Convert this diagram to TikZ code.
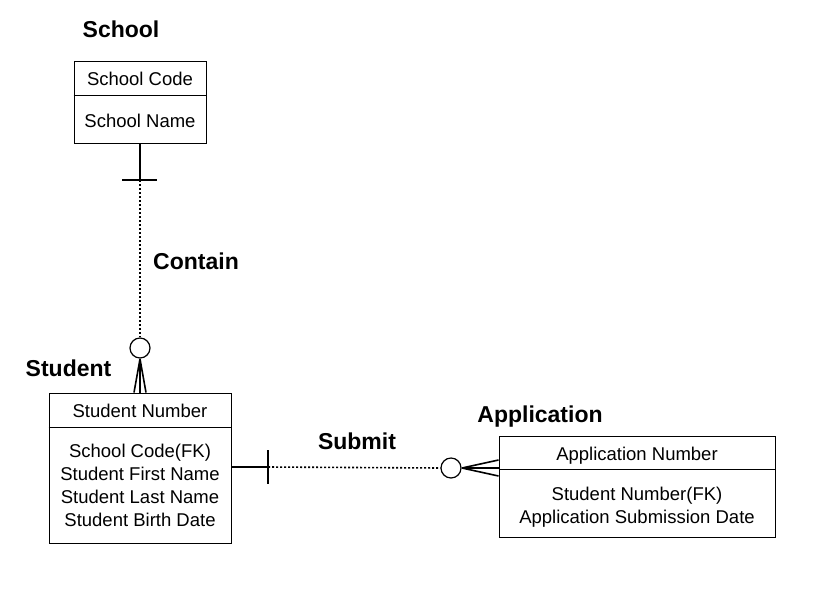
\documentclass[tikz,border=0pt]{standalone}
\usepackage{fontspec}
\setmainfont{Liberation Sans}
\usetikzlibrary{calc}
\begin{document}
\begin{tikzpicture}[x=1pt,y=-1pt,
  entity/.style={draw,line width=1pt,rectangle,inner sep=0pt},
  field/.style={anchor=base,align=center,inner sep=0pt,font=\fontsize{18.5}{22.7}\selectfont},
  title/.style={anchor=base,inner sep=0pt,font=\fontsize{23}{27}\selectfont\bfseries},
  rel/.style={line width=1.6pt},
  reldot/.style={line width=1.6pt,dash pattern=on 2pt off 2pt},
  ring/.style={draw,circle,line width=1.2pt,minimum size=20pt,inner sep=0pt,fill=white}]
\useasboundingbox (0,0) rectangle (826,611);
% School
\node[entity,minimum width=132pt,minimum height=82pt] (school) at (140,102) {};
\draw[line width=1pt] ($(school.north west)+(0,35)$) -- ($(school.north east)+(0,35)$);
\node[field] (sc) at (140,85) {School Code};
\node[field] (sn) at (140,127) {School Name};
\node[title] (tschool) at (121,37) {School};
% Student
\node[entity,minimum width=182pt,minimum height=150pt] (student) at (140,468) {};
\draw[line width=1pt] ($(student.north west)+(0,35)$) -- ($(student.north east)+(0,35)$);
\node[field] (stn) at (140,417) {Student Number};
\node[field] (stb) at (140,526) {School Code(FK)\\Student First Name\\Student Last Name\\Student Birth Date};
\node[title] (tstudent) at (68.5,376) {Student};
% Application
\node[entity,minimum width=276pt,minimum height=101pt] (app) at (637,486.5) {};
\draw[line width=1pt] ($(app.north west)+(0,34)$) -- ($(app.north east)+(0,34)$);
\node[field] (apn) at (637,460) {Application Number};
\node[field] (apb) at (637,523) {Student Number(FK)\\Application Submission Date};
\node[title] (tapp) at (540,422) {Application};
% Relationship labels
\node[title] (contain) at (196,269) {Contain};
\node[title] (submit) at (357,449) {Submit};
% Contain connector
\coordinate (b1) at (140,180);
\node[ring] (c1) at (140,348) {};
\draw[rel] (school.south) -- (b1);
\draw[rel] (122,180) -- (157,180);
\draw[reldot] (b1) -- (c1.north);
\coordinate (f1) at (140,359);
\draw[rel] (f1) -- ($(student.north)+(-6,0)$);
\draw[rel] (f1) -- (student.north);
\draw[rel] (f1) -- ($(student.north)+(6,0)$);
% Submit connector
\coordinate (s0) at (231,467);
\coordinate (b2) at (268,467);
\node[ring] (c2) at (451,468) {};
\draw[rel] (s0) -- (b2);
\draw[rel] (268,450) -- (268,484);
\draw[reldot] (b2) -- (c2.west);
\coordinate (f2) at (462,468);
\coordinate (a0) at ($(app.west)+(0,-18.5)$);
\draw[rel] (f2) -- ($(a0)+(0,-8)$);
\draw[rel] (f2) -- (a0);
\draw[rel] (f2) -- ($(a0)+(0,8)$);
\end{tikzpicture}
\end{document}
